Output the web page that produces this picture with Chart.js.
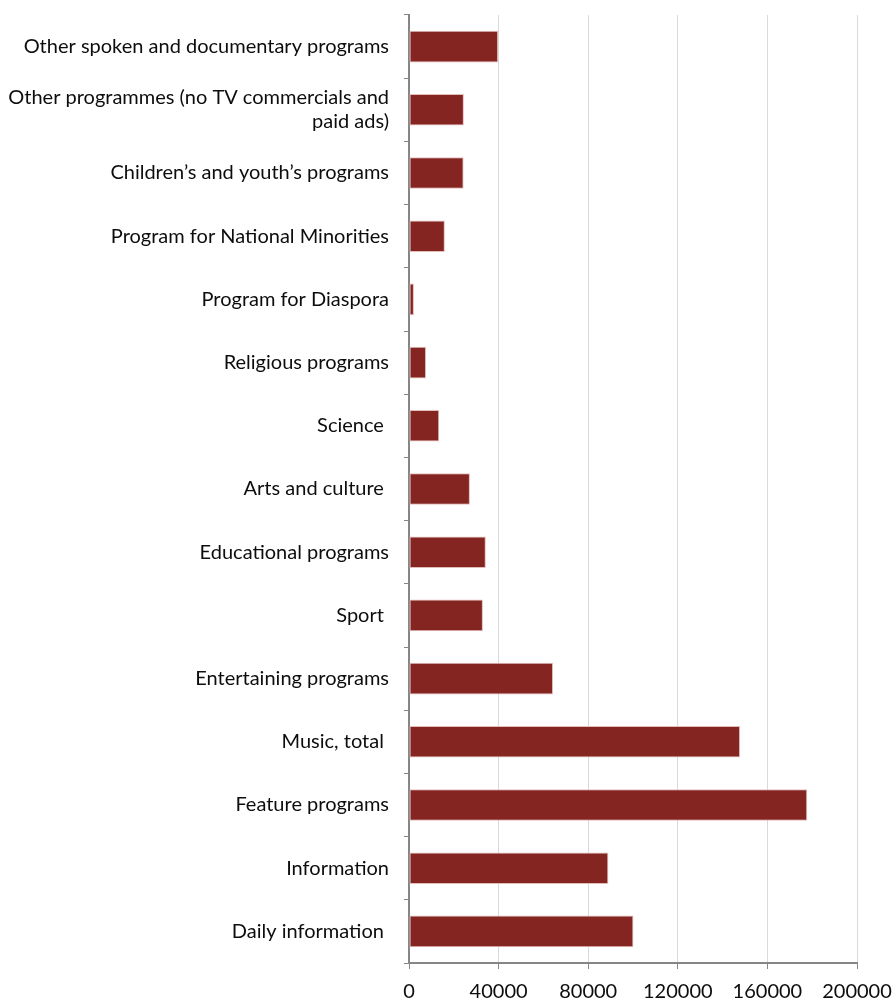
<!DOCTYPE html>
<html>
<head>
<meta charset="utf-8">
<script src="https://cdn.jsdelivr.net/npm/chart.js@4"></script>
<style>
  html, body { margin: 0; padding: 0; background: #fff; }
  #wrap { width: 893px; height: 1002px; position: relative; }
</style>
</head>
<body>
<div id="wrap"><canvas id="programChart"></canvas></div>
<script>
const categories = [
  "Other spoken and documentary programs",
  ["Other programmes (no TV commercials and", "paid ads)"],
  "Children\u2019s and youth\u2019s programs",
  "Program for National Minorities",
  "Program for Diaspora",
  "Religious programs",
  "Science ",
  "Arts and culture ",
  "Educational programs",
  "Sport ",
  "Entertaining programs",
  "Music, total ",
  "Feature programs",
  "Information",
  "Daily information "
];

const minutes = [
  39800, 24500, 24400, 16000, 2200, 7600, 13500, 27200,
  34300, 33000, 64300, 147800, 177800, 89000, 100200
];

const xTicks = [0, 40000, 80000, 120000, 160000, 200000];

const axisGray = "#868686";
const gridGray = "#d9d9d9";
const barColor = "#842521";

new Chart(document.getElementById("programChart"), {
  type: "bar",
  data: {
    labels: categories,
    datasets: [{
      data: minutes,
      backgroundColor: barColor,
      borderColor: "#e3bcbc",
      borderWidth: 1,
      borderSkipped: false,
      categoryPercentage: 1,
      barPercentage: 0.5
    }]
  },
  options: {
    indexAxis: "y",
    responsive: true,
    maintainAspectRatio: false,
    animation: false,
    layout: { padding: { top: 15, right: 36, left: 0, bottom: 0 } },
    plugins: {
      legend: { display: false },
      tooltip: { enabled: false }
    },
    scales: {
      y: {
        grid: {
          offset: true,
          drawOnChartArea: false,
          drawTicks: true,
          tickLength: 5,
          color: axisGray,
          tickColor: axisGray
        },
        border: { display: true, color: axisGray, width: 2 },
        ticks: {
          padding: 15,
          color: "#0d0d0d",
          font: { family: "Lato", size: 20, lineHeight: 1.2 }
        },
        afterFit: axis => {
          axis.width = 409;
          axis.paddingTop = 0;
          axis.paddingBottom = 0;
        }
      },
      x: {
        min: 0,
        max: 200000,
        afterBuildTicks: axis => {
          axis.ticks = xTicks.map(v => ({ value: v }));
        },
        grid: {
          color: gridGray,
          tickColor: axisGray,
          tickLength: 6,
          lineWidth: 1
        },
        border: { display: true, color: axisGray, width: 2 },
        ticks: {
          padding: 11,
          color: "#0d0d0d",
          font: { family: "Lato", size: 20 },
          maxRotation: 0,
          callback: value => String(value)
        },
        afterFit: axis => {
          axis.height = 39;
          axis.paddingLeft = 0;
          axis.paddingRight = 0;
        }
      }
    }
  }
});
</script>
</body>
</html>
